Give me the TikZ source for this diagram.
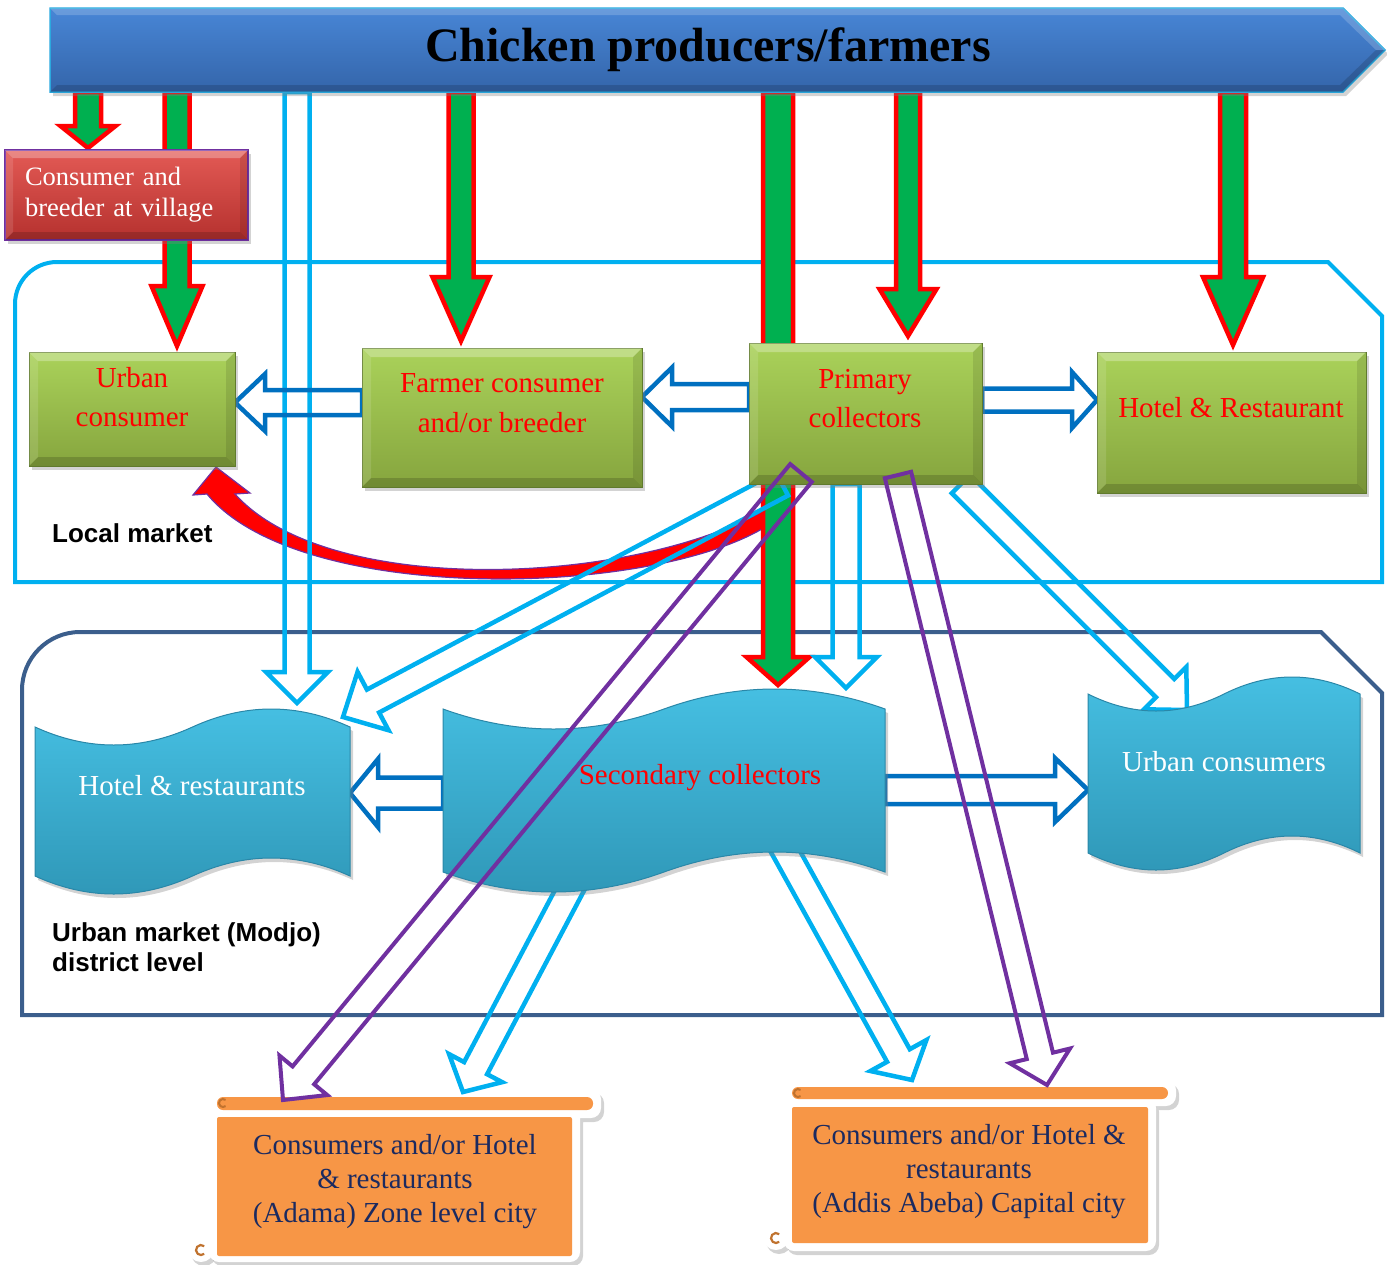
\documentclass[tikz,border=0pt]{standalone}
\usepackage{fontspec}
\setmainfont{Liberation Serif}
\setsansfont{Liberation Sans}
\usetikzlibrary{calc,shadows}
\definecolor{cyanl}{HTML}{00B0F0}
\definecolor{dblue}{HTML}{0070C0}
\definecolor{purp}{HTML}{7030A0}
\definecolor{umkt}{HTML}{3B5E8C}
\definecolor{grn}{HTML}{00B050}
\definecolor{gtop}{HTML}{AAD25A}
\definecolor{gbot}{HTML}{86A53E}
\definecolor{gbrd}{HTML}{627D2E}
\definecolor{wtop}{HTML}{46C0E3}
\definecolor{wbot}{HTML}{2F97B7}
\definecolor{wbrd}{HTML}{2A87A8}
\definecolor{orng}{HTML}{F79646}
\definecolor{navy}{HTML}{1B2A60}
\definecolor{btop}{HTML}{4886D6}
\definecolor{bbot}{HTML}{3465AA}
\definecolor{bedge}{HTML}{2AA8DE}
\definecolor{rtop}{HTML}{E35A55}
\definecolor{rbot}{HTML}{B5312E}
\definecolor{curlc}{HTML}{C0722E}

% block arrow: style, from, to, half shaft, half head, head length
\newcommand\blockarrow[6]{%
  \coordinate (bh) at ($(#3)!#6!(#2)$);
  \draw[#1] ($(#2)!#4!90:(#3)$) -- ($(bh)!#4!90:(#3)$) -- ($(bh)!#5!90:(#3)$) -- (#3)
    -- ($(bh)!#5!-90:(#3)$) -- ($(bh)!#4!-90:(#3)$) -- ($(#2)!#4!-90:(#3)$) -- cycle;
}
% bevel overlay on a rectangular node
\newcommand\bevel[2]{%
  \fill[white,opacity=.28] (#1.north west) -- (#1.north east) -- ($(#1.north east)+(-#2,#2)$) -- ($(#1.north west)+(#2,#2)$) -- cycle;
  \fill[black,opacity=.16] (#1.south west) -- (#1.south east) -- ($(#1.south east)+(-#2,-#2)$) -- ($(#1.south west)+(#2,-#2)$) -- cycle;
  \fill[white,opacity=.12] (#1.north west) -- ($(#1.north west)+(#2,#2)$) -- ($(#1.south west)+(#2,-#2)$) -- (#1.south west) -- cycle;
  \fill[black,opacity=.10] (#1.north east) -- ($(#1.north east)+(-#2,#2)$) -- ($(#1.south east)+(-#2,-#2)$) -- (#1.south east) -- cycle;
}
% wave shape: x0, x1, ytop, ybottom, amplitude
\newcommand\wave[5]{%
  \pgfmathsetmacro\wL{(#2-#1)/2}%
  \pgfmathsetmacro\wM{#1+\wL}%
  \pgfmathsetmacro\wc{4*#5/3}%
  \path[wavestyle] (#1,#3) .. controls ({#1+\wL/3},{#3+\wc}) and ({#1+2*\wL/3},{#3+\wc}) .. (\wM,#3)
    .. controls ({\wM+\wL/3},{#3-\wc}) and ({\wM+2*\wL/3},{#3-\wc}) .. (#2,#3) -- (#2,#4)
    .. controls ({\wM+2*\wL/3},{#4-\wc}) and ({\wM+\wL/3},{#4-\wc}) .. (\wM,#4)
    .. controls ({#1+2*\wL/3},{#4+\wc}) and ({#1+\wL/3},{#4+\wc}) .. (#1,#4) -- cycle;
}

\begin{document}
\begin{tikzpicture}[x=1pt,y=-1pt,
  ghost/.style={inner sep=0pt,outer sep=0pt},
  shd/.style={drop shadow={shadow xshift=3pt,shadow yshift=-4pt,opacity=.35}},
  gbox/.style={shd,draw=gbrd,line width=1pt,top color=gtop,bottom color=gbot},
  rbox/.style={shd,draw=purp,line width=2pt,top color=rtop,bottom color=rbot},
  wavestyle/.style={shd,draw=wbrd,line width=1pt,top color=wtop,bottom color=wbot},
  greenarr/.style={fill=grn,draw=red,line width=4.5pt},
  cyanarr/.style={draw=cyanl,line width=4.5pt},
  bluearr/.style={draw=dblue,line width=4.5pt},
  purparr/.style={draw=purp,line width=4pt},
  btxt/.style={inner sep=0pt,align=center,font=\fontsize{29pt}{39pt}\selectfont},
  scrtxt/.style={inner sep=0pt,align=center,text=navy,font=\fontsize{29pt}{34pt}\selectfont},
  lbl/.style={inner sep=0pt,align=left,font=\sffamily\bfseries\fontsize{26pt}{30pt}\selectfont},
]
\useasboundingbox (0,0) rectangle (1387,1264);

% ---------- geometry (invisible named nodes)
\node[ghost,minimum width=1293pt,minimum height=84pt] (banner) at (696.5,50) {};
\node[ghost,minimum width=243pt,minimum height=90pt] (village) at (126.5,195) {};
\node[ghost,minimum width=206pt,minimum height=114pt] (uc) at (132,409) {};
\node[ghost,minimum width=280pt,minimum height=139pt] (fc) at (502,417.5) {};
\node[ghost,minimum width=233pt,minimum height=141pt] (pc) at (865.5,413.5) {};
\node[ghost,minimum width=269pt,minimum height=141pt] (hr) at (1231.5,422.5) {};
\node[ghost,minimum width=315pt,minimum height=149pt] (hotw) at (192.5,801.5) {};
\node[ghost,minimum width=442pt,minimum height=163pt] (secw) at (664,790.5) {};
\node[ghost,minimum width=272pt,minimum height=159pt] (ucw) at (1224,773.5) {};
\node[ghost,minimum width=355pt,minimum height=139pt] (adama) at (394.5,1186.5) {};
\node[ghost,minimum width=356pt,minimum height=136pt] (addis) at (970,1175) {};

% ---------- market outlines
\draw[cyanl,line width=4pt] (15,582) -- (15,420) [rounded corners=42pt] -- (15,262) -- (700,262)
  [sharp corners] -- (1328,262) -- (1382,316) -- (1382,582) -- cycle;
\draw[umkt,line width=4pt] (22,1015) -- (22,800) [rounded corners=58pt] -- (22,632) -- (700,632)
  [sharp corners] -- (1321,632) -- (1382,693) -- (1382,1015) -- cycle;

% ---------- scrolls (orange destinations)
\fill[white,shd] (201,1249) circle[radius=13pt];
\fill[white,shd,rounded corners=10pt] (207,1089) rectangle (601,1118) (209,1108) rectangle (580,1262);
\fill[orng,rounded corners=6pt] (217,1097) rectangle (593,1110);
\fill[orng,rounded corners=2pt] (adama.north west) rectangle (adama.south east);
\draw[curlc,line width=2pt] (223,1103) ++(50:4pt) arc[start angle=50,end angle=310,radius=4pt];
\draw[curlc,line width=2.2pt] (201,1250) ++(50:5pt) arc[start angle=50,end angle=310,radius=5pt];

\fill[white,shd] (776,1237) circle[radius=13pt];
\fill[white,shd,rounded corners=10pt] (782,1080) rectangle (1176,1106) (784,1098) rectangle (1156,1251);
\fill[orng,rounded corners=6pt] (792,1087) rectangle (1168,1099);
\fill[orng,rounded corners=2pt] (addis.north west) rectangle (addis.south east);
\draw[curlc,line width=2pt] (798,1093) ++(50:4pt) arc[start angle=50,end angle=310,radius=4pt];
\draw[curlc,line width=2.2pt] (776,1238) ++(50:5pt) arc[start angle=50,end angle=310,radius=5pt];

% ---------- red curved arrow (primary collectors -> urban consumer)
\fill[red,draw=purp,line width=1.2pt] (770,507) .. controls (640,585) and (330,600) .. (235,494)
  -- (250,493) -- (216,467) -- (193,495) -- (207,494)
  .. controls (300,607) and (660,597) .. (770,524) -- cycle;

% ---------- green arrows from producers
\coordinate (a1) at (banner.south -| 88,0);   \coordinate (a2) at ($(village.north -| 88,0)+(0,-2)$);
\coordinate (b1) at (banner.south -| 177,0);  \coordinate (b2) at ($(uc.north -| 177,0)+(0,-6)$);
\coordinate (c1) at (banner.south -| 461,0);  \coordinate (c2) at ($(fc.north -| 461,0)+(0,-7)$);
\coordinate (d1) at (banner.south -| 778,0);  \coordinate (d2) at ($(secw.north -| 778,0)+(0,-24)$);
\coordinate (e1) at (banner.south -| 908,0);  \coordinate (e2) at ($(pc.north -| 908,0)+(0,-7)$);
\coordinate (f1) at (banner.south -| 1233,0); \coordinate (f2) at ($(hr.north -| 1233,0)+(0,-7)$);
\blockarrow{greenarr}{a1}{a2}{13pt}{27.5pt}{22pt}
\blockarrow{greenarr}{b1}{b2}{12.5pt}{25.5pt}{60pt}
\blockarrow{greenarr}{c1}{c2}{12.5pt}{28.5pt}{64pt}
\blockarrow{greenarr}{d1}{d2}{15pt}{31.5pt}{28pt}
\blockarrow{greenarr}{e1}{e2}{12pt}{28.5pt}{47pt}
\blockarrow{greenarr}{f1}{f2}{13pt}{30pt}{68pt}

% ---------- light blue hollow arrows
\coordinate (l1) at (banner.south -| 297,0);  \coordinate (l2) at ($(hotw.north -| 297,0)+(0,-24)$);
\coordinate (m1) at (pc.south -| 782,0);      \coordinate (m2) at ($(hotw.north east)+(-7,-10)$);
\coordinate (n1) at (pc.south -| 846,0);      \coordinate (n2) at ($(secw.north -| 846,0)+(0,-21)$);
\coordinate (o1) at (pc.south -| 961,0);      \coordinate (o2) at ($(ucw.north -| 1187,0)+(0,16)$);
\coordinate (p1) at ($(secw.south -| 575,0)+(0,8)$);  \coordinate (p2) at ($(adama.north -| 463,0)+(0,-25)$);
\coordinate (q1) at ($(secw.south -| 779,0)+(0,-32)$); \coordinate (q2) at ($(addis.north -| 912,0)+(0,-27)$);
\blockarrow{cyanarr}{l1}{l2}{12.5pt}{31pt}{31pt}
\blockarrow{cyanarr}{m1}{m2}{13pt}{33pt}{34pt}
\blockarrow{cyanarr}{n1}{n2}{13.5pt}{31pt}{31pt}
\blockarrow{cyanarr}{o1}{o2}{13pt}{30pt}{31pt}
\blockarrow{cyanarr}{p1}{p2}{13pt}{30pt}{27pt}
\blockarrow{cyanarr}{q1}{q2}{13pt}{32pt}{28pt}

% ---------- dark blue hollow arrows
\coordinate (g1) at ($(fc.west)+(0,-15)$);    \coordinate (g2) at ($(uc.east)+(0,-6.5)$);
\coordinate (h1) at ($(pc.west)+(0,-16.5)$);  \coordinate (h2) at ($(fc.east)+(0,-20.5)$);
\coordinate (i1) at ($(pc.east)+(0,-13.5)$);  \coordinate (i2) at ($(hr.west)+(0,-22.5)$);
\coordinate (j1) at ($(secw.west)+(0,2.5)$);  \coordinate (j2) at ($(hotw.east)+(0,-8.5)$);
\coordinate (k1) at ($(secw.east)+(0,-0.5)$); \coordinate (k2) at ($(ucw.west)+(0,16.5)$);
\blockarrow{bluearr}{g1}{g2}{12.5pt}{28.5pt}{30pt}
\blockarrow{bluearr}{h1}{h2}{13pt}{29.5pt}{30pt}
\blockarrow{bluearr}{i1}{i2}{11.5pt}{28pt}{25pt}
\blockarrow{bluearr}{j1}{j2}{15.5pt}{34pt}{28pt}
\blockarrow{bluearr}{k1}{k2}{14pt}{32pt}{33pt}

% ---------- banner
\path[shd,top color=btop,bottom color=bbot,draw=bedge,line width=1.5pt]
  (banner.north west) -- (banner.north east) -- ($(banner.east)+(42,0)$) -- (banner.south east) -- (banner.south west) -- cycle;
\fill[white,opacity=.18] (banner.north west) -- (banner.north east) -- ($(banner.east)+(42,0)$) -- ($(banner.east)+(33,0)$)
  -- ($(banner.north east)+(-3,7)$) -- ($(banner.north west)+(7,7)$) -- cycle;
\fill[black,opacity=.15] (banner.south west) -- (banner.south east) -- ($(banner.east)+(42,0)$) -- ($(banner.east)+(33,0)$)
  -- ($(banner.south east)+(-3,-7)$) -- ($(banner.south west)+(7,-7)$) -- cycle;
\node[inner sep=0pt,font=\fontsize{48pt}{50pt}\selectfont\bfseries] (title) at (708,50) {Chicken producers/farmers};

% ---------- boxes
\path[rbox] (village.north west) rectangle (village.south east);
\bevel{village}{8}
\path[gbox] (uc.north west) rectangle (uc.south east);  \bevel{uc}{9}
\path[gbox] (fc.north west) rectangle (fc.south east);  \bevel{fc}{9}
\path[gbox] (pc.north west) rectangle (pc.south east);  \bevel{pc}{9}
\path[gbox] (hr.north west) rectangle (hr.south east);  \bevel{hr}{9}

% ---------- urban market wave shapes
\wave{35}{350}{727}{876}{18}
\wave{443}{885}{709}{872}{20}
\wave{1088}{1360}{694}{853}{17}

% ---------- purple hollow arrows
\coordinate (r1) at ($(pc.south -| 801,0)+(0,-11)$);  \coordinate (r2) at ($(adama.north -| 283,0)+(0,-17)$);
\coordinate (s1) at ($(pc.south -| 898,0)+(0,-9)$);   \coordinate (s2) at ($(addis.north -| 1047,0)+(0,-22)$);
\blockarrow{purparr}{r1}{r2}{14pt}{31pt}{32pt}
\blockarrow{purparr}{s1}{s2}{13.5pt}{31pt}{30pt}

% ---------- texts
\node[inner sep=0pt,text width=203pt,align=left,text=white,font=\fontsize{26.5pt}{31pt}\selectfont] (villaget) at (village) {Consumer and\\breeder at village};
\node[btxt,text=red] (uct) at (132,397.5) {Urban\\consumer};
\node[btxt,text=red,font=\fontsize{29pt}{40pt}\selectfont] (fct) at (502,403) {Farmer consumer\\and/or breeder};
\node[btxt,text=red] (pct) at (865,398.5) {Primary\\collectors};
\node[btxt,text=red] (hrt) at (1231,408) {Hotel \& Restaurant};
\node[btxt,text=white] (hotwt) at (192,786) {Hotel \& restaurants};
\node[btxt,text=red] (secwt) at (700,778) {Secondary collectors};
\node[btxt,text=white] (ucwt) at (1224,762) {Urban consumers};
\node[scrtxt] (adamat) at (395,1182) {Consumers and/or Hotel\\\& restaurants\\(Adama) Zone level city};
\node[scrtxt] (addist) at (969,1172) {Consumers and/or Hotel \&\\restaurants\\(Addis Abeba) Capital city};
\node[lbl,anchor=west] (localm) at (52,533) {Local market};
\node[lbl,anchor=west] (urbanm) at (52,947) {Urban market (Modjo)\\district level};
\end{tikzpicture}
\end{document}
